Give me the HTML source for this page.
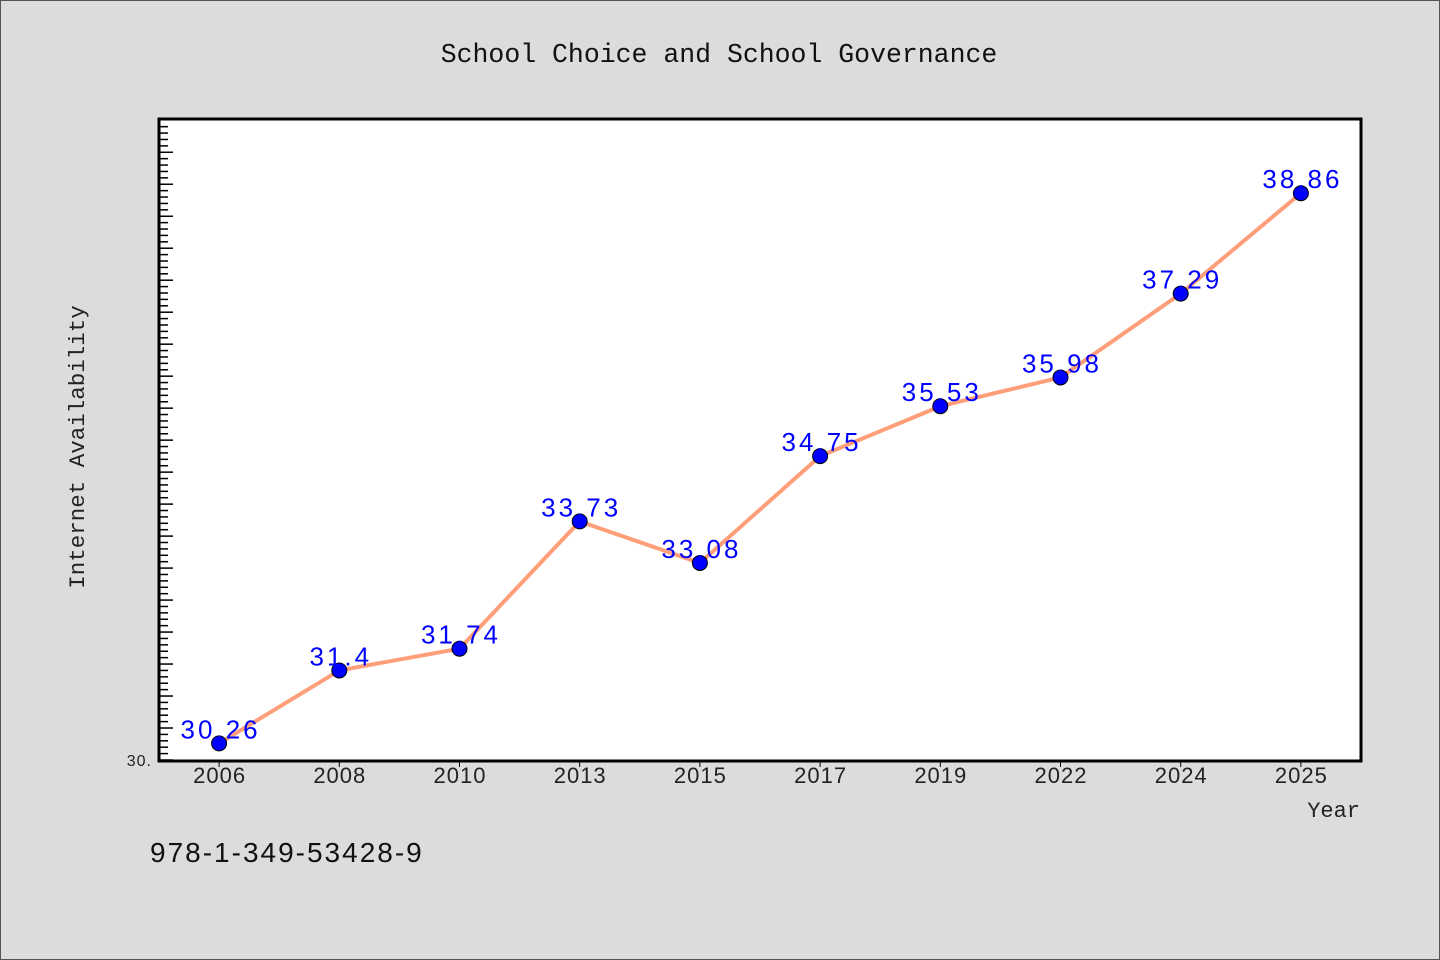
<!DOCTYPE html>
<html><head><meta charset="utf-8"><style>
html,body{margin:0;padding:0;}
body{width:1440px;height:960px;background:#dcdcdc;overflow:hidden;}
svg{display:block;}
</style></head><body>
<svg width="1440" height="960" xmlns="http://www.w3.org/2000/svg">
<rect x="0.5" y="0.5" width="1439" height="959" fill="#dcdcdc" stroke="#555"/>
<text x="719" y="62" text-anchor="middle" font-family="'Liberation Mono', 'WenQuanYi Zen Hei', monospace" font-size="26.5" fill="#111">School Choice and School Governance</text>
<rect x="159" y="119" width="1202" height="642" fill="#fff"/>
<g id="yticks"></g>
<g id="xticks"></g>
<g id="series"></g>
<rect x="159" y="119" width="1202" height="642" fill="none" stroke="#000" stroke-width="3"/>
<text x="152" y="766" text-anchor="end" font-family="'Liberation Sans', sans-serif" font-size="16" letter-spacing="1" fill="#222">30.</text>
<text transform="translate(84,447) rotate(-90)" text-anchor="middle" font-family="'Liberation Mono', monospace" font-size="22.5" fill="#222">Internet Availability</text>
<text x="1360" y="817" text-anchor="end" font-family="'Liberation Mono', monospace" font-size="22" fill="#222">Year</text>
<text x="150" y="862" font-family="'Liberation Sans', sans-serif" font-size="28" letter-spacing="2" fill="#111">978-1-349-53428-9</text>
</svg>
<script>
const categories=["2006","2008","2010","2013","2015","2017","2019","2022","2024","2025"];
const values=[30.26,31.4,31.74,33.73,33.08,34.75,35.53,35.98,37.29,38.86];
const valueLabels=["30.26","31.4","31.74","33.73","33.08","34.75","35.53","35.98","37.29","38.86"];
const yMin=30, yMax=40.02;
const L=159,R=1361,T=119,B=761;
const NS="http://www.w3.org/2000/svg";
function y(v){return 760-(v-yMin)*(760-T)/(yMax-yMin);}
function x(i){return L+(R-L)/categories.length*(i+0.5);}
function mk(t,a,p){const e=document.createElementNS(NS,t);for(const k in a)e.setAttribute(k,a[k]);p.appendChild(e);return e;}
const yt=document.getElementById('yticks');
for(let k=0;k*0.1+yMin<=yMax+1e-9;k++){
  const v=yMin+k*0.1;const yy=y(v);
  if(yy<T+2) continue;
  const l=mk('line',{x1:L,x2:L+(k%5==0?14:9),y1:yy,y2:yy,stroke:'#000','stroke-width':1.5},yt);
  
  
}
const xt=document.getElementById('xticks');
categories.forEach((c,i)=>{
  const l=mk('line',{x1:x(i),x2:x(i),y1:B,y2:B+6,stroke:'#000','stroke-width':1},xt);
  
  
  const t=mk('text',{x:x(i)+0.5,y:783,'text-anchor':'middle','font-family':"'Liberation Sans', sans-serif",'font-size':22,'letter-spacing':1,fill:'#222'},xt);
  t.textContent=c;
  
  
});
const s=document.getElementById('series');
const pl=mk('polyline',{points:values.map((v,i)=>x(i)+','+y(v)).join(' '),fill:'none',stroke:'#ff9f7a','stroke-width':4,'stroke-linejoin':'round'},s);


values.forEach((v,i)=>{
  const c=mk('circle',{cx:x(i),cy:y(v),r:7.5,fill:'#0000ff',stroke:'#000','stroke-width':1},s);
  
  
  const t=mk('text',{x:x(i)+1.5,y:y(v)-5,'text-anchor':'middle','font-family':"'Liberation Sans', sans-serif",'font-size':26,'letter-spacing':3,fill:'#0000ff'},s);
  t.textContent=valueLabels[i];
  
  
});
</script>
</body></html>
